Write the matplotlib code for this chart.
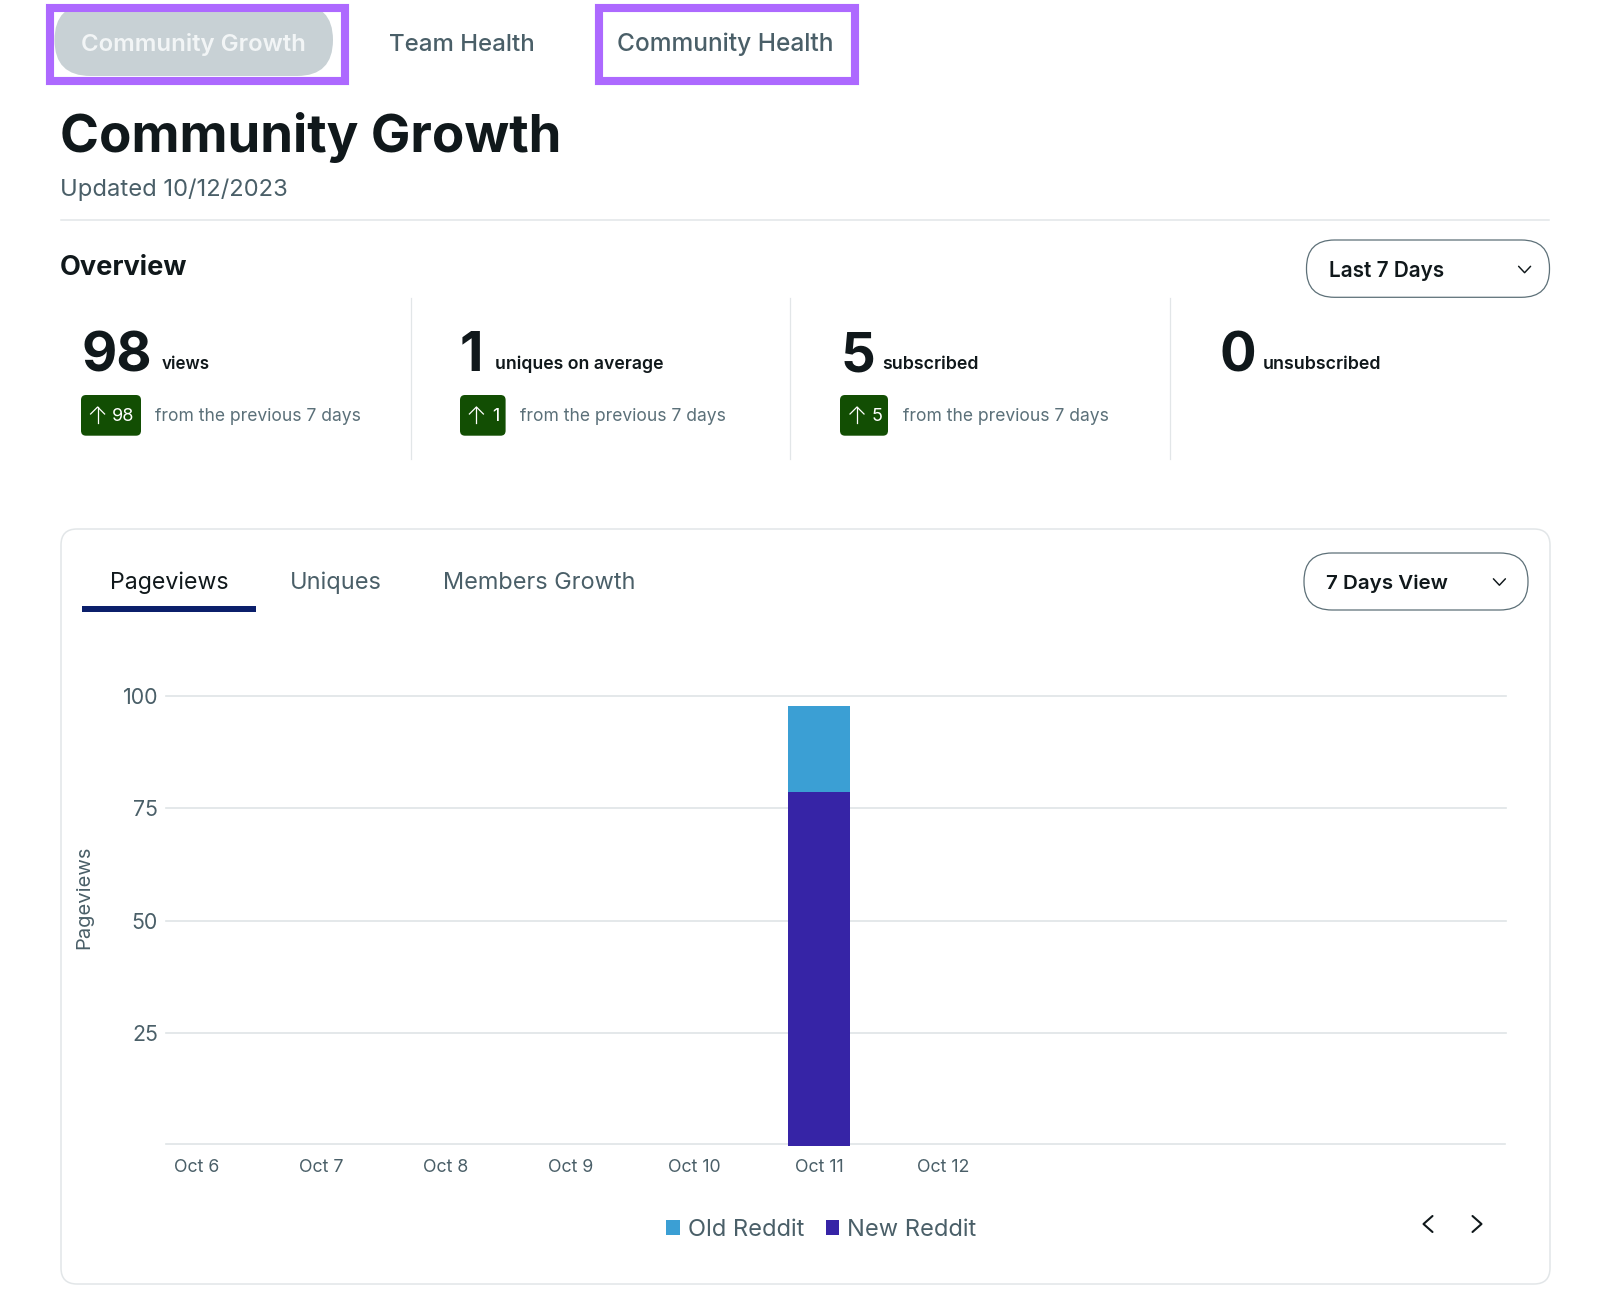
import matplotlib
matplotlib.use("Agg")
import matplotlib.pyplot as plt
from matplotlib.patches import FancyBboxPatch, Rectangle

# ---------- data ----------
dates = ["Oct 6", "Oct 7", "Oct 8", "Oct 9", "Oct 10", "Oct 11", "Oct 12"]
old_reddit = [0, 0, 0, 0, 0, 19, 0]
new_reddit = [0, 0, 0, 0, 0, 78.6, 0]
y_ticks = [25, 50, 75, 100]
stat_values = ["98", "1", "5", "0"]
stat_labels = ["views", "uniques on average", "subscribed", "unsubscribed"]
stat_deltas = ["98", "1", "5"]
COMPARE = "from the previous 7 days"

plt.rcParams["font.family"] = ["Inter", "DejaVu Sans"]
W, H = 1600, 1306
fig = plt.figure(figsize=(W / 100, H / 100), dpi=100, facecolor="white")
ui = fig.add_axes([0, 0, 1, 1], zorder=0)
ui.set_xlim(0, W)
ui.set_ylim(H, 0)
ui.axis("off")
renderer = fig.canvas.get_renderer()

DARK = "#10181b"
SLATE = "#4a5f68"
GREY = "#5b7079"
LINE = "#e2e6e8"
PURPLE = "#ad69ff"


def fit(x0, x1, y, s, color=DARK, weight="normal", start=14, z=5):
    """Place text with its box running from x0 to x1, on baseline y."""
    t = ui.text(x0, y, s, color=color, fontweight=weight, fontsize=start,
                ha="left", va="baseline", zorder=z)
    w = t.get_window_extent(renderer).width
    t.set_fontsize(start * (x1 - x0) / w)
    return t


def rrect(x0, y0, x1, y1, r, fc="none", ec="none", lw=1.0, z=2):
    ui.add_patch(FancyBboxPatch((x0, y0), x1 - x0, y1 - y0,
                                boxstyle=f"round,pad=0,rounding_size={r}",
                                fc=fc, ec=ec, lw=lw, zorder=z))


def chevron(cx, cy, dx, dy, color=DARK, lw=1.05):
    ui.plot([cx - dx, cx, cx + dx], [cy - dy, cy + dy, cy - dy], color=color,
            lw=lw, solid_capstyle="round", solid_joinstyle="round", zorder=5)


# top tabs
rrect(54.5, 4, 333, 76, 36, fc="#c8d1d5", z=1)
for x0, y0, x1, y1 in [(50, 8, 345, 80.5), (599, 8, 855, 80.5)]:
    ui.add_patch(Rectangle((x0, y0), x1 - x0, y1 - y0, fc="white", ec=PURPLE,
                           lw=5.8, joinstyle="miter", zorder=0.5))
    ui.add_patch(Rectangle((x0, y0), x1 - x0, y1 - y0, fc="none", ec=PURPLE,
                           lw=5.8, joinstyle="miter", zorder=3))
fit(81, 306, 51, "Community Growth", color="#f2f5f6", weight="semibold")
fit(389, 534.5, 51, "Team Health", color=SLATE, weight="medium")
fit(617, 833, 51, "Community Health", color=SLATE, weight="medium")

# heading
fit(60.5, 562, 152, "Community Growth", weight="bold", start=38)
fit(60, 288, 196, "Updated 10/12/2023", color=SLATE)
ui.plot([60.5, 1549], [219.5, 219.5], color=LINE, lw=1.1, zorder=1)
fit(60, 187, 275, "Overview", weight="bold")

# overview stats
for x in [411.3, 790.2, 1170]:
    ui.plot([x, x], [298, 459], color=LINE, lw=0.9, zorder=1)
num_x = [82, 460, 840, 1219.5]
lab_x = [(162, 210), (495, 663), (882, 978), (1263, 1381)]
num_size = fit(82, 152.5, 371, stat_values[0], weight="bold", start=38).get_fontsize()
for s, a, lab, (c, d) in zip(stat_values, num_x, stat_labels, lab_x):
    if s != stat_values[0]:
        ui.text(a, 371, s, color=DARK, fontweight="bold", fontsize=num_size,
                ha="left", va="baseline", zorder=5)
    fit(c, d, 369, lab, weight="semibold")
badge_x = [(81, 141), (460, 505.6), (840, 888)]
arrow_x = [97.6, 476.4, 857]
delta_x = [(112, 134), (492, 499), (871.5, 881)]
cmp_x = [(155.4, 360), (520.5, 725.6), (903, 1107)]
for d, (a, b), ax_, (e, f), (g, h) in zip(stat_deltas, badge_x, arrow_x, delta_x, cmp_x):
    rrect(a, 395, b, 435.7, 5, fc="#124e03")
    ui.plot([ax_, ax_], [407, 423], color="white", lw=0.9, zorder=5)
    ui.plot([ax_ - 7, ax_, ax_ + 7], [414, 407, 414], color="white", lw=0.9, zorder=5)
    ui.text(e, 421, d, color="white", fontsize=13, ha="left", va="baseline", zorder=5)
    ui.text(g, 421, COMPARE, color=GREY, fontsize=12.6, ha="left", va="baseline", zorder=5)

# dropdowns
rrect(1306.5, 240, 1549.5, 297.3, 28, fc="white", ec="#5d7078", lw=0.9)
fit(1329, 1444, 277, "Last 7 Days", weight="semibold")
chevron(1524.6, 269.5, 6, 3.2)
rrect(61, 529, 1550, 1284, 16, fc="white", ec=LINE, lw=1.1, z=1)
rrect(1304, 553, 1528, 610, 28, fc="white", ec="#5d7078", lw=0.9)
fit(1326, 1448, 589, "7 Days View", weight="semibold")
chevron(1499.4, 582, 6, 3.2)

# chart tabs
fit(109.5, 228, 589, "Pageviews", color=DARK)
fit(289.5, 381, 589, "Uniques", color=SLATE)
fit(443, 635.5, 589, "Members Growth", color=SLATE)
ui.add_patch(Rectangle((82, 606), 173.6, 6.3, fc="#0b1f6b", ec="none", zorder=3))

# paging arrows
for cx, sign in [(1428, 1), (1477, -1)]:
    ui.plot([cx + sign * 4.5, cx - sign * 4.5, cx + sign * 4.5], [1216, 1224, 1232],
            color=DARK, lw=1.5, solid_capstyle="round", solid_joinstyle="round", zorder=5)

# ---------- chart ----------
px_left, px_right, px_top, px_bottom = 166, 1505.5, 695.7, 1143.9
ax = fig.add_axes([px_left / W, 1 - px_bottom / H, (px_right - px_left) / W,
                   (px_bottom - px_top) / H], zorder=2)
ax.patch.set_alpha(0)
x = list(range(len(dates)))
ax.bar(x, new_reddit, width=0.5, color="#3624a6", label="New Reddit", clip_on=False, zorder=3)
ax.bar(x, old_reddit, width=0.5, bottom=new_reddit, color="#3b9fd4", label="Old Reddit",
       clip_on=False, zorder=3)
ax.set_xlim(-0.249, 10.518)
ax.set_ylim(0.36, 100)
ax.set_yticks(y_ticks)
ax.set_xticks(x, dates)
ax.grid(axis="y", color="#dfe4e6", lw=1.2, clip_on=False, zorder=0)
for side in ["top", "left", "right"]:
    ax.spines[side].set_visible(False)
ax.spines["bottom"].set_color("#dfe4e6")
ax.spines["bottom"].set_linewidth(1.2)
ax.tick_params(axis="x", length=0, pad=10.6, labelsize=12.8, labelcolor=SLATE)
ax.tick_params(axis="y", length=0, pad=5.8, labelsize=15.4, labelcolor=SLATE)
ax.set_ylabel("Pageviews", fontsize=14.5, color=SLATE)
ax.yaxis.set_label_coords((93 - px_left) / (px_right - px_left),
                          (px_bottom - 897.5) / (px_bottom - px_top))

handles, labels = ax.get_legend_handles_labels()
leg = fig.legend(handles[::-1], labels[::-1], loc="center",
                 bbox_to_anchor=(821.4 / W, 1 - 1230 / H), ncols=2, frameon=False,
                 fontsize=17, labelcolor=SLATE, handlelength=0.56, handleheight=0.56,
                 handletextpad=0.35, columnspacing=0.9, borderpad=0, borderaxespad=0)

fig.savefig("out.png", dpi=100)
